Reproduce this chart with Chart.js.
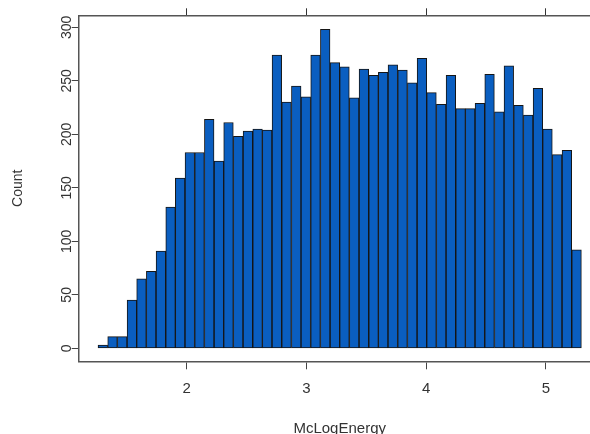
<!DOCTYPE html>
<html>
<head>
<meta charset="utf-8">
<script src="https://cdn.jsdelivr.net/npm/chart.js@4/dist/chart.umd.min.js"></script>
<style>
  html, body { margin: 0; padding: 0; background: #fff; overflow: hidden; }
  canvas { display: block; }
</style>
</head>
<body>
<canvas id="histChart" width="620" height="440"></canvas>
<script>
// bin centres of the McLogEnergy histogram (50 bins)
const binCenters = [
  1.299, 1.380, 1.461, 1.542, 1.622, 1.703, 1.784, 1.865, 1.945, 2.026,
  2.107, 2.188, 2.269, 2.349, 2.430, 2.511, 2.592, 2.672, 2.753, 2.834,
  2.915, 2.995, 3.076, 3.157, 3.238, 3.318, 3.399, 3.480, 3.561, 3.641,
  3.722, 3.803, 3.884, 3.965, 4.045, 4.126, 4.207, 4.288, 4.368, 4.449,
  4.530, 4.611, 4.691, 4.772, 4.853, 4.934, 5.014, 5.095, 5.176, 5.257
];
const counts = [
  3, 11, 11, 45, 65, 72, 91, 132, 159, 183,
  183, 214, 175, 211, 198, 203, 205, 204, 274, 230,
  245, 235, 274, 298, 267, 263, 234, 261, 255, 258,
  265, 260, 248, 271, 239, 228, 255, 224, 224, 229,
  256, 221, 264, 227, 218, 243, 205, 181, 185, 92
];
const xTicks = [2, 3, 4, 5];
const yTicks = [0, 50, 100, 150, 200, 250, 300];

const xMin = 1.0975, xMax = 5.4585;
const yMin = -12.1, yMax = 311.2;

const textColor = "#333";
const lineColor = "#555";

const ctx = document.getElementById("histChart").getContext("2d");
new Chart(ctx, {
  type: "bar",
  data: {
    datasets: [{
      label: "Count",
      data: binCenters.map((x, i) => ({ x: x, y: counts[i] })),
      backgroundColor: "#0a5ec0",
      borderColor: "#151515",
      borderWidth: 1,
      borderSkipped: false,
      barPercentage: 1,
      categoryPercentage: 1
    }]
  },
  options: {
    responsive: false,
    animation: false,
    layout: { padding: { left: 0, top: 0, right: 19.3, bottom: 0 } },
    plugins: {
      legend: { display: false },
      tooltip: { enabled: false }
    },
    scales: {
      x: {
        type: "linear",
        position: "bottom",
        offset: false,
        min: xMin,
        max: xMax,
        afterBuildTicks: s => { s.ticks = xTicks.map(v => ({ value: v })); },
        afterFit: s => { s.height = 78.7; },
        ticks: {
          color: textColor,
          font: { family: "Liberation Sans", size: 15 },
          padding: 11,
          maxRotation: 0
        },
        grid: { offset: false, drawOnChartArea: false, drawTicks: true, tickLength: 8, color: "#444" },
        border: { display: true, color: lineColor, width: 1.5 },
        title: {
          display: true,
          text: "McLogEnergy",
          color: textColor,
          font: { family: "Liberation Sans", size: 15 },
          padding: { top: 0, bottom: 2 }
        }
      },
      x2: {
        type: "linear",
        position: "top",
        offset: false,
        min: xMin,
        max: xMax,
        afterBuildTicks: s => { s.ticks = xTicks.map(v => ({ value: v })); },
        afterFit: s => { s.height = 15.3; },
        ticks: { display: false },
        grid: { offset: false, drawOnChartArea: false, drawTicks: true, tickLength: 7, color: "#333" },
        border: { display: true, color: lineColor, width: 1.5 }
      },
      y: {
        position: "left",
        min: yMin,
        max: yMax,
        afterBuildTicks: s => { s.ticks = yTicks.map(v => ({ value: v })); },
        afterFit: s => { s.width = 78.7; },
        ticks: {
          color: textColor,
          font: { family: "Liberation Sans", size: 14 },
          minRotation: 90,
          maxRotation: 90,
          crossAlign: "center",
          padding: -7.5
        },
        grid: { drawOnChartArea: false, drawTicks: true, tickLength: 7, color: "#444" },
        border: { display: true, color: lineColor, width: 1.5 },
        title: {
          display: true,
          text: "Count",
          color: textColor,
          font: { family: "Liberation Sans", size: 14 },
          padding: { top: 10, bottom: 0 }
        }
      }
    }
  }
});
</script>
</body>
</html>
